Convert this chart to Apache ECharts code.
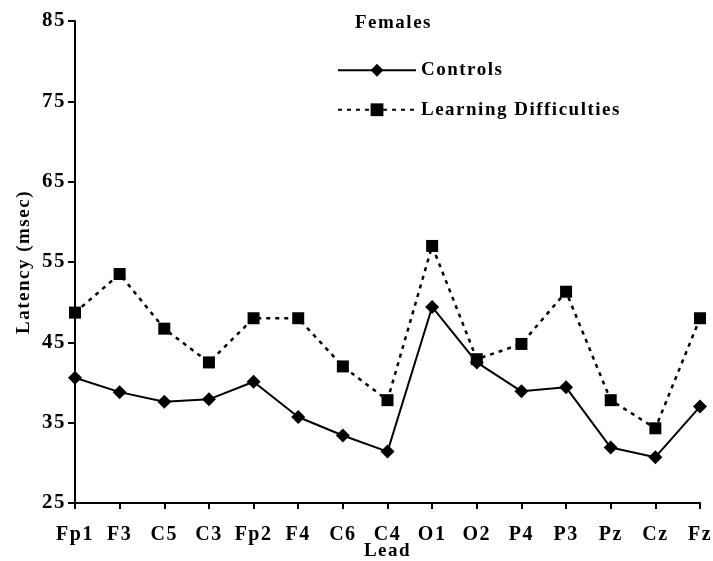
<!DOCTYPE html>
<html>
<head>
<meta charset="utf-8">
<script src="https://cdn.jsdelivr.net/npm/echarts@6/dist/echarts.min.js"></script>
<style>
  html, body { margin: 0; padding: 0; background: #fff; }
  #chart { width: 713px; height: 561px; }
</style>
</head>
<body>
<div id="chart"></div>
<script>
// EEG leads along the horizontal axis
const leads = ['Fp1', 'F3', 'C5', 'C3', 'Fp2', 'F4', 'C6', 'C4', 'O1', 'O2', 'P4', 'P3', 'Pz', 'Cz', 'Fz'];
// Mean latency (msec), females
const controls = [40.6, 38.8, 37.6, 37.9, 40.1, 35.7, 33.4, 31.4, 49.4, 42.5, 38.9, 39.4, 31.9, 30.7, 37.0];
const learningDifficulties = [48.7, 53.5, 46.7, 42.5, 48.0, 48.0, 42.0, 37.8, 57.0, 42.9, 44.8, 51.3, 37.8, 34.3, 48.0];
const yTicks = { min: 25, max: 85, step: 10 };

// Slightly tracked-out lettering for all chart text (applied to drawing and measuring alike)
(function () {
  const proto = CanvasRenderingContext2D.prototype;
  if (!('letterSpacing' in proto)) return;
  const tracking = '1.5px';
  const fill = proto.fillText, measure = proto.measureText;
  proto.fillText = function () { this.letterSpacing = tracking; return fill.apply(this, arguments); };
  proto.measureText = function () { this.letterSpacing = tracking; return measure.apply(this, arguments); };
})();

const serif = '"Liberation Serif", "Times New Roman", serif';
const chart = echarts.init(document.getElementById('chart'), null, { renderer: 'canvas' });

chart.setOption({
  backgroundColor: '#fff',
  animation: false,
  title: {
    text: 'Females',
    left: 355,
    top: 13,
    padding: 0,
    textStyle: { fontFamily: serif, fontWeight: 'bold', fontSize: 19, color: '#000' }
  },
  legend: {
    orient: 'vertical',
    left: 337,
    top: 60,
    padding: 0,
    itemWidth: 78,
    itemHeight: 16,
    itemGap: 19,
    textStyle: { fontFamily: serif, fontWeight: 'bold', fontSize: 19, color: '#000' },
    data: ['Controls', 'Learning Difficulties']
  },
  grid: { left: 75, right: 13, top: 21, bottom: 58, containLabel: false, outerBoundsMode: 'none' },
  xAxis: {
    type: 'category',
    data: leads,
    boundaryGap: false,
    name: 'Lead',
    nameLocation: 'middle',
    nameGap: 38,
    nameMoveOverlap: false,
    nameTextStyle: { fontFamily: serif, fontWeight: 'bold', fontSize: 19, color: '#000' },
    axisLine: { lineStyle: { color: '#000', width: 2 } },
    axisTick: { show: true, alignWithLabel: true, length: 6, lineStyle: { color: '#000', width: 2 } },
    axisLabel: { fontFamily: serif, fontWeight: 'bold', fontSize: 20, color: '#000', margin: 21, interval: 0 },
    splitLine: { show: false }
  },
  yAxis: {
    type: 'value',
    min: yTicks.min,
    max: yTicks.max,
    interval: yTicks.step,
    name: 'Latency (msec)',
    nameLocation: 'middle',
    nameGap: 41,
    nameMoveOverlap: false,
    nameRotate: 90,
    nameTextStyle: { fontFamily: serif, fontWeight: 'bold', fontSize: 19, color: '#000' },
    axisLine: { show: true, lineStyle: { color: '#000', width: 2 } },
    axisTick: { show: true, length: 7, lineStyle: { color: '#000', width: 2 } },
    axisLabel: { fontFamily: serif, fontWeight: 'bold', fontSize: 21, color: '#000', margin: 9 },
    splitLine: { show: false }
  },
  series: [
    {
      name: 'Controls',
      type: 'line',
      data: controls,
      symbol: 'diamond',
      symbolSize: 14,
      itemStyle: { color: '#000' },
      lineStyle: { color: '#000', width: 2, type: 'solid' },
      z: 3
    },
    {
      name: 'Learning Difficulties',
      type: 'line',
      data: learningDifficulties,
      symbol: 'rect',
      symbolSize: 12,
      itemStyle: { color: '#000' },
      lineStyle: { color: '#000', width: 2.5, type: [4, 5] },
      z: 2
    }
  ]
});
</script>
</body>
</html>
